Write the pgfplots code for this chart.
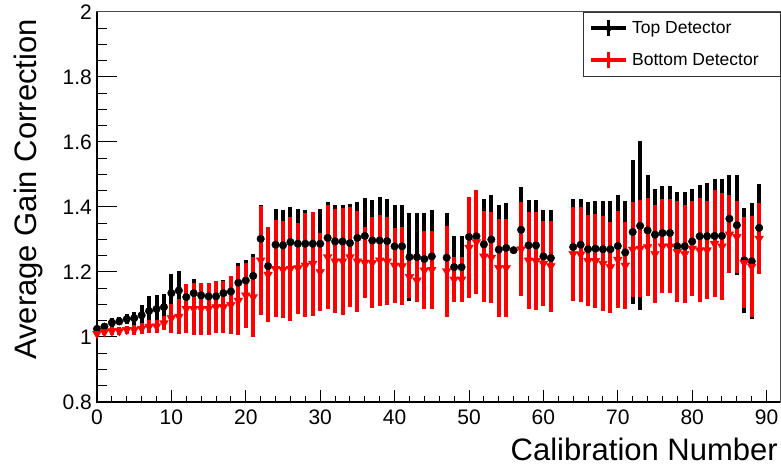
\documentclass[border=0pt]{standalone}
\usepackage{fontspec}
\setmainfont{Liberation Sans}
\usepackage{pgfplots}
\pgfplotsset{compat=1.18}
\usepackage{pgfplotstable}

\pgfplotstableread{
x y ey
0 1.025 0.006
1 1.032 0.008
2 1.044 0.014
3 1.048 0.012
4 1.055 0.016
5 1.058 0.020
6 1.067 0.030
7 1.080 0.045
8 1.086 0.042
9 1.092 0.040
10 1.135 0.060
11 1.143 0.060
12 1.123 0.036
13 1.135 0.042
14 1.128 0.036
15 1.125 0.037
16 1.125 0.036
17 1.135 0.040
18 1.140 0.047
19 1.167 0.062
20 1.174 0.062
21 1.188 0.068
22 1.302 0.103
23 1.218 0.100
24 1.284 0.110
25 1.282 0.108
26 1.292 0.108
27 1.287 0.108
28 1.287 0.105
29 1.287 0.095
30 1.287 0.108
31 1.305 0.110
32 1.294 0.113
33 1.294 0.113
34 1.289 0.119
35 1.305 0.110
36 1.311 0.117
37 1.297 0.124
38 1.297 0.134
39 1.295 0.129
40 1.279 0.126
41 1.279 0.126
42 1.246 0.134
43 1.246 0.134
44 1.240 0.142
45 1.248 0.142
47 1.244 0.136
48 1.215 0.095
49 1.215 0.095
50 1.308 0.115
51 1.310 0.110
52 1.285 0.141
53 1.300 0.136
54 1.269 0.138
55 1.274 0.138
56 1.267 0.000
57 1.330 0.132
58 1.282 0.139
59 1.282 0.139
60 1.248 0.142
61 1.243 0.147
64 1.277 0.149
65 1.284 0.142
66 1.270 0.146
67 1.272 0.145
68 1.270 0.147
69 1.270 0.147
70 1.280 0.156
71 1.260 0.157
72 1.323 0.223
73 1.342 0.260
74 1.328 0.169
75 1.315 0.141
76 1.320 0.145
77 1.320 0.145
78 1.279 0.167
79 1.279 0.167
80 1.294 0.162
81 1.310 0.159
82 1.310 0.165
83 1.311 0.176
84 1.311 0.176
85 1.364 0.133
86 1.344 0.153
87 1.236 0.161
88 1.233 0.179
89 1.336 0.134
}\topdata

\pgfplotstableread{
x y ey
0 1.010 0.008
1 1.015 0.010
2 1.018 0.012
3 1.018 0.012
4 1.022 0.013
5 1.022 0.015
6 1.026 0.017
7 1.032 0.020
8 1.033 0.020
9 1.043 0.022
10 1.058 0.045
11 1.063 0.055
12 1.087 0.075
13 1.087 0.080
14 1.087 0.080
15 1.087 0.080
16 1.092 0.080
17 1.092 0.080
18 1.099 0.090
19 1.112 0.105
20 1.128 0.100
21 1.123 0.123
22 1.236 0.168
23 1.192 0.146
24 1.210 0.150
25 1.207 0.150
26 1.210 0.160
27 1.212 0.140
28 1.220 0.160
29 1.226 0.160
30 1.200 0.120
31 1.246 0.160
32 1.233 0.160
33 1.233 0.165
34 1.246 0.155
35 1.233 0.155
36 1.229 0.110
37 1.228 0.140
38 1.236 0.140
39 1.233 0.135
40 1.220 0.115
41 1.218 0.120
42 1.185 0.065
43 1.174 0.065
44 1.205 0.120
45 1.207 0.120
47 1.203 0.140
48 1.177 0.070
49 1.177 0.070
50 1.275 0.155
51 1.292 0.160
52 1.248 0.140
53 1.244 0.140
54 1.213 0.150
55 1.213 0.150
57 1.270 0.145
58 1.236 0.150
59 1.234 0.150
60 1.226 0.130
61 1.218 0.140
64 1.256 0.145
65 1.254 0.145
66 1.234 0.140
67 1.234 0.145
68 1.226 0.145
69 1.215 0.140
70 1.238 0.150
71 1.220 0.135
72 1.269 0.145
73 1.272 0.150
74 1.277 0.150
75 1.256 0.150
76 1.279 0.145
77 1.279 0.145
78 1.262 0.155
79 1.256 0.150
80 1.272 0.145
81 1.267 0.160
82 1.267 0.150
83 1.287 0.165
84 1.279 0.165
85 1.316 0.120
86 1.308 0.110
87 1.228 0.140
88 1.217 0.155
89 1.303 0.110
}\botdata

\begin{document}
\begin{tikzpicture}
\begin{axis}[
  scale only axis, width=683pt, height=390pt,
  xmin=0, xmax=91.8, ymin=0.8, ymax=2,
  clip=false,
  xtick={0,10,20,30,40,50,60,70,80,90},
  ytick={0.8,1,1.2,1.4,1.6,1.8,2},
  minor x tick num=4, minor y tick num=3,
  tick align=inside, xtick pos=bottom, ytick pos=left,
  xtick style={/pgfplots/major tick length=12pt, /pgfplots/minor tick length=6pt, line width=1pt, black},
  ytick style={/pgfplots/major tick length=20pt, /pgfplots/minor tick length=10pt, line width=1pt, black},
  axis line style={black!70, line width=1pt},
  /pgf/number format/assume math mode=true,
  tick label style={font=\fontsize{21}{24}\selectfont},
  yticklabel style={anchor=east, inner sep=0pt, xshift=-5pt},
  xticklabel style={anchor=north, inner sep=0pt, yshift=-8pt},
  xlabel={Calibration Number},
  ylabel={Average Gain Correction},
  every axis x label/.style={at={(rel axis cs:1,0)}, anchor=base east, yshift=-58pt, xshift=-2pt, inner sep=0pt, font=\fontsize{31}{36}\selectfont},
  every axis y label/.style={at={(rel axis cs:0,1)}, xshift=-60pt, yshift=-7pt, rotate=90, anchor=base east, inner sep=0pt, font=\fontsize{31}{36}\selectfont},
  legend style={at={(rel axis cs:1,1)}, anchor=north east, xshift=1pt, draw=black!80, line width=0.8pt, fill=white, inner sep=0pt, row sep=0pt, column sep=0pt, nodes={inner sep=0pt}, font=\fontsize{17.5}{20}\selectfont},
  legend cell align=left,
]
\addplot[draw=none, mark=none,
  legend image code/.code={
    \path (0pt,-16pt) rectangle (49pt,16pt);
    \draw[black, line width=4pt] (8pt,0pt) -- (43pt,0pt);
    \draw[black, line width=3pt] (25.5pt,-8pt) -- (25.5pt,8pt);
    \fill[black] (25.5pt,0pt) circle (3pt);},
  error bars/.cd, y dir=both, y explicit, error mark=none,
  error bar style={draw=black, line width=4pt, solid}]
  table[x=x, y=y, y error=ey] {\topdata};
\addlegendentry{Top Detector}
\addplot[forget plot, only marks, mark=*, mark size=3.8pt, mark options={draw=black, fill=black}]
  table[x=x, y=y] {\topdata};
\addplot[draw=none, mark=none,
  legend image code/.code={
    \path (0pt,-16pt) rectangle (49pt,16pt);
    \draw[red, line width=4pt] (8pt,0pt) -- (43pt,0pt);
    \draw[red, line width=3pt] (25.5pt,-8pt) -- (25.5pt,8pt);},
  error bars/.cd, y dir=both, y explicit, error mark=none,
  error bar style={draw=red, line width=4pt, solid}]
  table[x=x, y=y, y error=ey] {\botdata};
\addlegendentry{Bottom Detector\hspace*{22pt}}
\addplot[forget plot, only marks, mark=triangle*, mark size=5pt, mark options={draw=red, fill=red, rotate=180}]
  table[x=x, y=y] {\botdata};
\draw[black, line width=1.8pt] (rel axis cs:0,1) -- (rel axis cs:0,0) -- (rel axis cs:1,0);
\coordinate (ll) at (rel axis cs:0,0);
\end{axis}
\pgfresetboundingbox
\useasboundingbox (ll) ++(-97pt,-66pt) rectangle ++(781pt,468pt);
\end{tikzpicture}
\end{document}
